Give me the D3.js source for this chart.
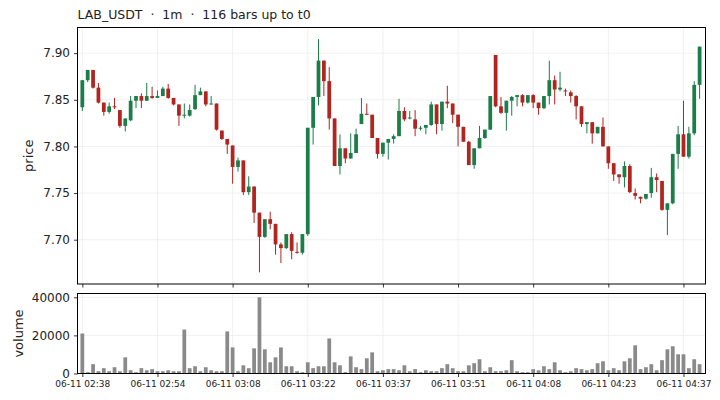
<!DOCTYPE html>
<html>
<head>
<meta charset="utf-8">
<script src="https://cdn.jsdelivr.net/npm/d3@7"></script>
<style>
  html, body { margin: 0; padding: 0; background: #fff; }
  svg { display: block; font-family: "DejaVu Sans", sans-serif; }
</style>
</head>
<body>
<div id="chart"></div>
<script>
// LAB_USDT 1m candles
const opens = [
  7.842, 7.871, 7.882, 7.863, 7.847, 7.837, 7.843, 7.839, 7.822, 7.828,
  7.849, 7.854, 7.849, 7.854, 7.852, 7.854, 7.862, 7.852, 7.845, 7.833,
  7.833, 7.840, 7.855, 7.859, 7.845, 7.846, 7.817, 7.808, 7.801, 7.778,
  7.785, 7.751, 7.757, 7.729, 7.703, 7.722, 7.717, 7.695, 7.691, 7.706,
  7.687, 7.686, 7.706, 7.820, 7.853, 7.892, 7.870, 7.830, 7.779, 7.798,
  7.787, 7.793, 7.824, 7.835, 7.834, 7.809, 7.792, 7.804, 7.808, 7.811,
  7.838, 7.830, 7.829, 7.819, 7.820, 7.823, 7.845, 7.824, 7.848, 7.846,
  7.834, 7.821, 7.805, 7.780, 7.798, 7.809, 7.818, 7.898, 7.843, 7.836,
  7.849, 7.853, 7.855, 7.847, 7.855, 7.847, 7.841, 7.854, 7.871, 7.861,
  7.860, 7.858, 7.854, 7.843, 7.824, 7.826, 7.814, 7.821, 7.800, 7.782,
  7.770, 7.767, 7.779, 7.750, 7.746, 7.744, 7.750, 7.767, 7.763, 7.732,
  7.739, 7.792, 7.813, 7.789, 7.814, 7.866
];
const highs = [
  7.871, 7.882, 7.882, 7.868, 7.847, 7.847, 7.852, 7.839, 7.830, 7.854,
  7.854, 7.857, 7.868, 7.864, 7.860, 7.864, 7.867, 7.852, 7.845, 7.846,
  7.845, 7.866, 7.863, 7.859, 7.854, 7.846, 7.817, 7.808, 7.801, 7.788,
  7.785, 7.768, 7.757, 7.729, 7.722, 7.730, 7.717, 7.697, 7.706, 7.708,
  7.697, 7.706, 7.820, 7.853, 7.915, 7.892, 7.885, 7.830, 7.813, 7.798,
  7.814, 7.819, 7.852, 7.846, 7.834, 7.809, 7.804, 7.808, 7.813, 7.851,
  7.842, 7.838, 7.839, 7.822, 7.823, 7.848, 7.845, 7.848, 7.865, 7.846,
  7.834, 7.821, 7.806, 7.798, 7.822, 7.818, 7.854, 7.898, 7.853, 7.849,
  7.854, 7.855, 7.856, 7.855, 7.856, 7.847, 7.854, 7.892, 7.876, 7.880,
  7.862, 7.860, 7.855, 7.843, 7.826, 7.826, 7.821, 7.831, 7.800, 7.782,
  7.770, 7.784, 7.781, 7.755, 7.746, 7.749, 7.777, 7.771, 7.763, 7.739,
  7.792, 7.822, 7.849, 7.821, 7.870, 7.907
];
const lows = [
  7.838, 7.869, 7.862, 7.846, 7.833, 7.835, 7.840, 7.820, 7.816, 7.827,
  7.841, 7.841, 7.849, 7.851, 7.852, 7.854, 7.851, 7.844, 7.822, 7.830,
  7.832, 7.839, 7.855, 7.843, 7.845, 7.817, 7.807, 7.792, 7.760, 7.773,
  7.748, 7.748, 7.718, 7.665, 7.702, 7.711, 7.684, 7.675, 7.690, 7.679,
  7.685, 7.684, 7.704, 7.802, 7.844, 7.854, 7.818, 7.779, 7.770, 7.782,
  7.787, 7.793, 7.824, 7.834, 7.809, 7.787, 7.789, 7.786, 7.803, 7.811,
  7.827, 7.829, 7.811, 7.817, 7.813, 7.822, 7.813, 7.817, 7.841, 7.825,
  7.800, 7.805, 7.780, 7.776, 7.798, 7.808, 7.818, 7.842, 7.835, 7.817,
  7.833, 7.843, 7.843, 7.846, 7.841, 7.834, 7.840, 7.845, 7.845, 7.859,
  7.854, 7.847, 7.829, 7.821, 7.814, 7.803, 7.814, 7.800, 7.776, 7.763,
  7.760, 7.756, 7.750, 7.743, 7.739, 7.743, 7.745, 7.751, 7.731, 7.705,
  7.738, 7.776, 7.789, 7.787, 7.812, 7.851
];
const closes = [
  7.871, 7.882, 7.863, 7.847, 7.837, 7.843, 7.842, 7.822, 7.830, 7.849,
  7.854, 7.849, 7.854, 7.852, 7.854, 7.862, 7.852, 7.845, 7.833, 7.834,
  7.839, 7.855, 7.859, 7.845, 7.846, 7.818, 7.808, 7.802, 7.778, 7.785,
  7.751, 7.757, 7.729, 7.703, 7.722, 7.717, 7.695, 7.691, 7.706, 7.688,
  7.686, 7.706, 7.820, 7.853, 7.892, 7.870, 7.830, 7.779, 7.798, 7.787,
  7.793, 7.813, 7.835, 7.834, 7.809, 7.792, 7.804, 7.808, 7.811, 7.838,
  7.829, 7.831, 7.819, 7.820, 7.823, 7.845, 7.824, 7.848, 7.846, 7.834,
  7.821, 7.805, 7.780, 7.798, 7.809, 7.818, 7.854, 7.843, 7.836, 7.849,
  7.853, 7.855, 7.847, 7.855, 7.847, 7.841, 7.854, 7.871, 7.861, 7.863,
  7.859, 7.854, 7.843, 7.824, 7.826, 7.814, 7.821, 7.800, 7.782, 7.770,
  7.767, 7.779, 7.751, 7.747, 7.744, 7.749, 7.767, 7.764, 7.732, 7.739,
  7.792, 7.813, 7.789, 7.814, 7.866, 7.907
];
const volumes = [
  21000, 700, 4900, 1200, 2800, 1200, 3300, 1200, 8500, 1700,
  700, 2800, 1700, 2300, 1200, 1200, 1700, 1200, 1200, 23100,
  2800, 3800, 1200, 3300, 1700, 1200, 1200, 22100, 13700, 1200,
  4300, 2800, 13200, 40000, 12700, 5900, 8500, 13700, 3800, 3800,
  1200, 700, 5900, 2800, 3800, 3800, 18400, 5900, 4300, 700,
  9000, 3300, 2300, 8000, 11100, 1200, 1700, 2300, 2300, 1700,
  4300, 1200, 2300, 700, 1700, 1200, 1200, 2800, 4900, 2800,
  1200, 1200, 4300, 5400, 7500, 1200, 3300, 1200, 1200, 1700,
  7000, 1200, 700, 700, 2300, 1700, 3800, 2300, 5900, 1700,
  700, 1200, 2800, 2300, 1700, 2300, 5400, 6400, 1700, 2800,
  1700, 6400, 8000, 14800, 2300, 3300, 4900, 1700, 7000, 12700,
  14300, 10100, 10100, 2800, 7500, 4900
];

// x axis is by bar index; labels every 14 bars
const tickIdx = [0, 14, 28, 42, 56, 70, 84, 98, 112];
const tickLabels = [
  '06-11 02:38', '06-11 02:54', '06-11 03:08', '06-11 03:22', '06-11 03:37',
  '06-11 03:51', '06-11 04:08', '06-11 04:23', '06-11 04:37'
];
const priceTicks = [7.70, 7.75, 7.80, 7.85, 7.90];
const volTicks = [0, 20000, 40000];

(function () {
  const W = 720, H = 400;
  const UP = '#1b7d47', DOWN = '#b1241f', VOL = '#8a8a8a', GRID = '#ececec';
  const left = 77.5, right = 705.5;
  const price = { top: 27.5, bottom: 284 };
  const vol = { top: 293.5, bottom: 373.5 };

  const candles = opens.map((o, i) => ({
    i, o, h: highs[i], l: lows[i], c: closes[i], v: volumes[i]
  }));

  const svg = d3.select('#chart').append('svg')
    .attr('width', W).attr('height', H)
    .attr('viewBox', `0 0 ${W} ${H}`);

  const x = d3.scaleLinear().domain([-0.9, candles.length + 0.1]).range([left, right]);
  const bw = (x(1) - x(0)) * 0.7;

  // price range padded 5% like matplotlib autoscale
  const lo = d3.min(lows), hi = d3.max(highs), pad = (hi - lo) * 0.05;
  const y = d3.scaleLinear().domain([lo - pad, hi + pad]).range([price.bottom, price.top]);
  const yv = d3.scaleLinear().domain([0, d3.max(volumes) * 1.05]).range([vol.bottom, vol.top]);

  // gridlines
  function grid(panel, yScale, ticks) {
    const g = svg.append('g');
    g.selectAll('.gx').data(tickIdx).enter().append('line')
      .attr('x1', d => x(d)).attr('x2', d => x(d))
      .attr('y1', panel.top).attr('y2', panel.bottom)
      .attr('stroke', GRID).attr('stroke-width', 0.8);
    g.selectAll('.gy').data(ticks).enter().append('line')
      .attr('x1', left).attr('x2', right)
      .attr('y1', d => yScale(d)).attr('y2', d => yScale(d))
      .attr('stroke', GRID).attr('stroke-width', 0.8);
  }
  grid(price, y, priceTicks);
  grid(vol, yv, volTicks);

  // candles: wick then body
  const cg = svg.append('g');
  cg.selectAll('.wick').data(candles).enter().append('line')
    .attr('x1', d => x(d.i)).attr('x2', d => x(d.i))
    .attr('y1', d => y(d.h)).attr('y2', d => y(d.l))
    .attr('stroke', d => d.c >= d.o ? UP : DOWN)
    .attr('stroke-width', 1);
  cg.selectAll('.body').data(candles).enter().append('rect')
    .attr('x', d => x(d.i) - bw / 2)
    .attr('y', d => y(Math.max(d.o, d.c)))
    .attr('width', bw)
    .attr('height', d => Math.max(1, Math.abs(y(d.o) - y(d.c))))
    .attr('fill', d => d.c >= d.o ? UP : DOWN);

  // volume bars
  svg.append('g').selectAll('rect').data(candles).enter().append('rect')
    .attr('x', d => x(d.i) - bw / 2)
    .attr('y', d => yv(d.v))
    .attr('width', bw)
    .attr('height', d => yv(0) - yv(d.v))
    .attr('fill', VOL);

  // axes
  const fmtIdx = d => tickLabels[tickIdx.indexOf(d)];
  const axPriceX = svg.append('g').attr('transform', `translate(0,${price.bottom})`)
    .call(d3.axisBottom(x).tickValues(tickIdx).tickSize(3.5).tickFormat(''));
  const axVolX = svg.append('g').attr('transform', `translate(0,${vol.bottom})`)
    .call(d3.axisBottom(x).tickValues(tickIdx).tickSize(3.5).tickPadding(4).tickFormat(fmtIdx));
  const axPriceY = svg.append('g').attr('transform', `translate(${left},0)`)
    .call(d3.axisLeft(y).tickValues(priceTicks).tickSize(3.5).tickPadding(4).tickFormat(d3.format('.2f')));
  const axVolY = svg.append('g').attr('transform', `translate(${left},0)`)
    .call(d3.axisLeft(yv).tickValues(volTicks).tickSize(3.5).tickPadding(4).tickFormat(d3.format('d')));

  [axPriceX, axVolX, axPriceY, axVolY].forEach(a => {
    a.select('.domain').remove();
    a.selectAll('.tick line').attr('stroke', '#000').attr('stroke-width', 0.8);
    a.selectAll('text').attr('fill', '#222').style('font-family', 'DejaVu Sans');
  });
  axVolX.selectAll('text').style('font-size', '9px');
  axPriceY.selectAll('text').style('font-size', '12px');
  axVolY.selectAll('text').style('font-size', '12px');

  // panel frames
  [price, vol].forEach(p => {
    svg.append('rect')
      .attr('x', left).attr('y', p.top)
      .attr('width', right - left).attr('height', p.bottom - p.top)
      .attr('fill', 'none').attr('stroke', '#000').attr('stroke-width', 1);
  });

  // labels
  svg.append('text')
    .attr('x', left).attr('y', 19)
    .style('font-size', '12.5px').attr('fill', '#222')
    .attr('xml:space', 'preserve')
    .text('LAB_USDT  \u00b7  1m  \u00b7  116 bars up to t0');
  svg.append('text')
    .attr('transform', `translate(33,${(price.top + price.bottom) / 2}) rotate(-90)`)
    .attr('text-anchor', 'middle')
    .style('font-size', '13px').attr('fill', '#222')
    .text('price');
  svg.append('text')
    .attr('transform', `translate(23,${(vol.top + vol.bottom) / 2}) rotate(-90)`)
    .attr('text-anchor', 'middle')
    .style('font-size', '13px').attr('fill', '#222')
    .text('volume');
})();
</script>
</body>
</html>
